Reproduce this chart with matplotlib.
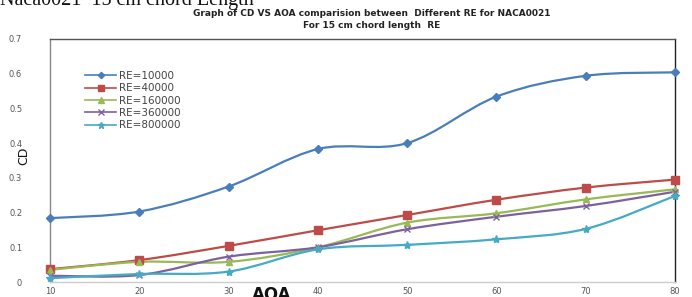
import numpy as np
import matplotlib
matplotlib.use("Agg")
import matplotlib.pyplot as plt
from matplotlib.path import Path
from matplotlib.patches import PathPatch
from matplotlib.lines import Line2D

aoa = [10, 20, 30, 40, 50, 60, 70, 80]
cd_re10000 = [0.184, 0.203, 0.275, 0.383, 0.400, 0.534, 0.594, 0.604]
cd_re40000 = [0.037, 0.063, 0.104, 0.149, 0.193, 0.237, 0.272, 0.295]
cd_re160000 = [0.035, 0.058, 0.058, 0.100, 0.171, 0.198, 0.238, 0.267]
cd_re360000 = [0.018, 0.020, 0.073, 0.100, 0.152, 0.188, 0.219, 0.260]
cd_re800000 = [0.011, 0.023, 0.030, 0.094, 0.107, 0.123, 0.153, 0.248]

labels = ["RE=10000", "RE=40000", "RE=160000", "RE=360000", "RE=800000"]
series = [cd_re10000, cd_re40000, cd_re160000, cd_re360000, cd_re800000]
colors = ["#4a7ebb", "#be4b48", "#98b954", "#7d60a0", "#46aac5"]
markers = ["D", "s", "^", "x", "*"]
msizes = [4, 6, 5, 5, 6]

x_ticks = [10, 20, 30, 40, 50, 60, 70, 80]
y_ticks = [0, 0.1, 0.2, 0.3, 0.4, 0.5, 0.6, 0.7]
y_ticklabels = ["0", "0.1", "0.2", "0.3", "0.4", "0.5", "0.6", "0.7"]


def smooth_path(xs, ys):
    # excel-like smoothed line: cubic bezier through each point
    pts = np.column_stack([xs, ys]).astype(float)
    n = len(pts)
    verts = [pts[0]]
    codes = [Path.MOVETO]
    for i in range(n - 1):
        p0 = pts[max(i - 1, 0)]
        p1 = pts[i]
        p2 = pts[i + 1]
        p3 = pts[min(i + 2, n - 1)]
        c1 = p1 + (p2 - p0) / 6.0
        c2 = p2 - (p3 - p1) / 6.0
        verts += [c1, c2, p2]
        codes += [Path.CURVE4] * 3
    return Path(verts, codes)


fig = plt.figure(figsize=(6.92, 2.97), dpi=100)
fig.patch.set_facecolor("white")
ax = fig.add_axes([50 / 692, 1 - 282 / 297, 625 / 692, 243 / 297])

for vals, color, mk, ms, lab in zip(series, colors, markers, msizes, labels):
    ax.add_patch(PathPatch(smooth_path(aoa, vals), facecolor="none",
                           edgecolor=color, linewidth=1.6, zorder=3))
    ax.plot(aoa, vals, linestyle="none", marker=mk, markersize=ms, color=color,
            markeredgecolor=color, markeredgewidth=1.0, zorder=4, clip_on=False)

ax.set_xlim(10, 80)
ax.set_ylim(0, 0.7)
ax.set_xticks(x_ticks)
ax.set_yticks(y_ticks)
ax.set_yticklabels(y_ticklabels)
ax.tick_params(axis="both", length=0, labelsize=6, colors="#555555")
ax.tick_params(axis="y", pad=20)
ax.tick_params(axis="x", pad=3.5)

ax.spines["left"].set_color("#888888")
ax.spines["bottom"].set_color("#cccccc")
ax.spines["top"].set_color("#555555")
ax.spines["right"].set_color("#222222")
for sp in ax.spines.values():
    sp.set_linewidth(1.0)

handles = [Line2D([0], [0], color=c, marker=m, markersize=s * 0.8, linewidth=1.2)
           for c, m, s in zip(colors, markers, msizes)]
leg = ax.legend(handles, labels, loc="upper left", bbox_to_anchor=(0.05, 0.885),
                frameon=False, fontsize=7.5, handlelength=2.9, labelspacing=0.22,
                handletextpad=0.3, borderaxespad=0)
for t in leg.get_texts():
    t.set_color("#444444")

fig.text(24 / 692, 1 - 156 / 297, "CD", rotation=90, fontsize=9,
         ha="center", va="center", color="#111111")
fig.text(272 / 692, 1 - 295 / 297, "AOA", fontsize=12, fontweight="bold",
         ha="center", va="center", color="#111111")

fig.text(372 / 692, 1 - 13 / 297,
         "Graph of CD VS AOA comparision between  Different RE for NACA0021",
         fontsize=6.5, fontweight="bold", ha="center", va="center", color="#222222")
fig.text(372 / 692, 1 - 26 / 297, "For 15 cm chord length  RE",
         fontsize=6.5, fontweight="bold", ha="center", va="center", color="#222222")

fig.text(0.0, 1 - 5 / 297, "Naca0021  15 cm chord Length", fontsize=14.5,
         family="Liberation Serif", ha="left", va="baseline", color="#111111")

fig.savefig("out.png", dpi=100)
